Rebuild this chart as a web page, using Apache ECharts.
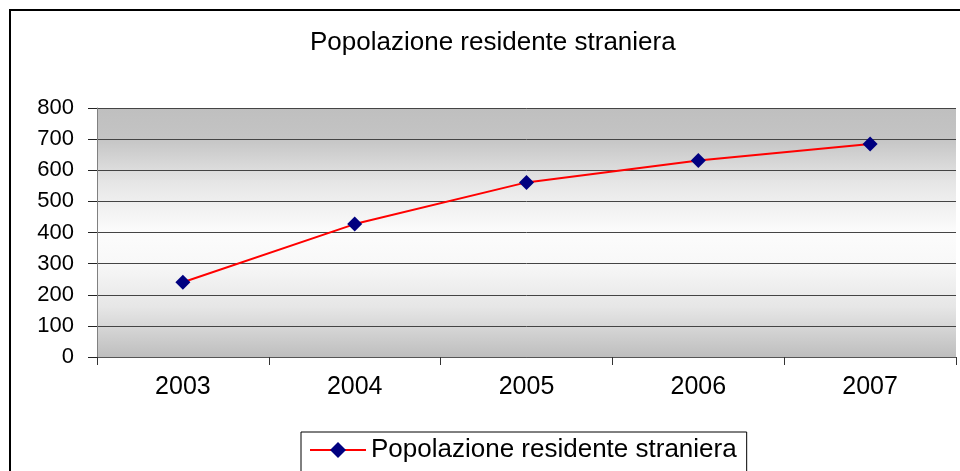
<!DOCTYPE html>
<html><head><meta charset="utf-8">
<script src="https://cdn.jsdelivr.net/npm/echarts@6/dist/echarts.min.js"></script>
<style>html,body{margin:0;padding:0;background:#fff}#c{width:960px;height:471px}</style>
</head><body><div id="c"></div>
<script>
const titleText = 'Popolazione residente straniera';
const seriesName = 'Popolazione residente straniera';
const categories = ['2003', '2004', '2005', '2006', '2007'];
const values = [240, 427, 561, 631, 684];

const chart = echarts.init(document.getElementById('c'));
const font = '"Liberation Sans", Arial, sans-serif';
chart.setOption({
  animation: false,
  graphic: [{
    type: 'rect', shape: {x: 10, y: 10, width: 1000, height: 600},
    style: {fill: 'none', stroke: '#000', lineWidth: 2}, silent: true, z: -1
  }],
  title: {
    text: titleText, left: 305, top: 25,
    textStyle: {fontFamily: font, fontSize: 26, fontWeight: 'normal', color: '#000'}
  },
  legend: {
    data: [seriesName], left: 301, top: 432,
    padding: [5, 10, 10, 8], borderColor: '#000', borderWidth: 1,
    itemWidth: 56, itemHeight: 20, itemGap: 4,
    textStyle: {fontFamily: font, fontSize: 26, color: '#000'}
  },
  grid: {
    left: 97, right: 4, top: 108, bottom: 114,
    show: true, borderWidth: 0,
    backgroundColor: {
      type: 'linear', x: 0, y: 0, x2: 0, y2: 1,
      colorStops: [
        {offset: 0, color: '#bfbfbf'},
        {offset: 0.12, color: '#c4c4c4'},
        {offset: 0.3, color: '#e6e6e6'},
        {offset: 0.5, color: '#fcfcfc'},
        {offset: 0.62, color: '#f8f8f8'},
        {offset: 0.8, color: '#e6e6e6'},
        {offset: 1, color: '#bebebe'}
      ]
    }
  },
  xAxis: {
    type: 'category', data: categories, boundaryGap: true,
    axisLine: {lineStyle: {color: '#555', width: 1}},
    axisTick: {show: true, length: 8, lineStyle: {color: '#333'}},
    axisLabel: {fontFamily: font, fontSize: 25, color: '#000', margin: 18}
  },
  yAxis: {
    type: 'value', min: 0, max: 800, interval: 100,
    axisLine: {show: true, lineStyle: {color: '#808080', width: 1}},
    axisTick: {show: true, length: 9, lineStyle: {color: '#222'}},
    axisLabel: {fontFamily: font, fontSize: 22, color: '#000', margin: 23},
    splitLine: {show: true, lineStyle: {color: '#444', width: 1}}
  },
  series: [{
    name: seriesName, type: 'line', data: values,
    symbol: 'diamond', symbolSize: 15,
    itemStyle: {color: '#000080'},
    lineStyle: {color: '#ff0000', width: 2}
  }]
});
</script></body></html>
